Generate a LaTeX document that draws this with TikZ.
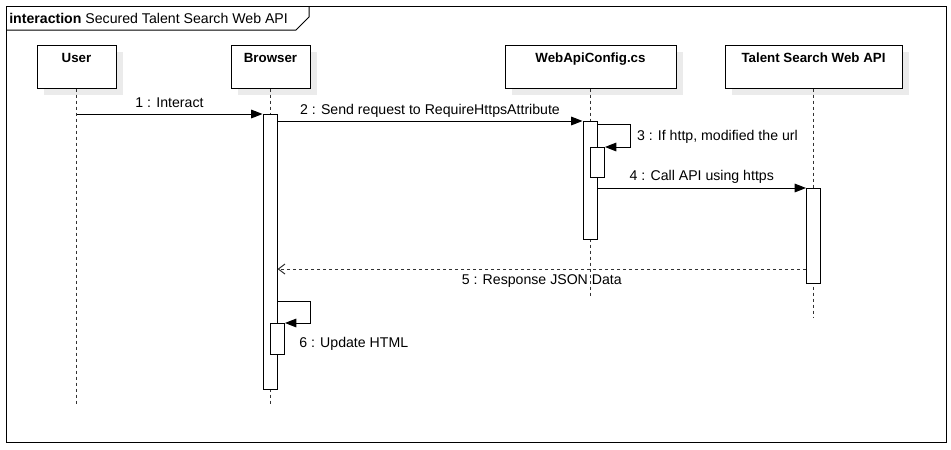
\documentclass[tikz,border=0pt]{standalone}
\usepackage{fontspec}
\setmainfont{Liberation Sans}
\usetikzlibrary{arrows.meta,shadows}
\tikzset{
  lifebox/.style={draw,fill=white,minimum height=32.25pt,inner sep=0pt,line width=0.75pt,
    drop shadow={shadow xshift=5.25pt,shadow yshift=-5.25pt,fill=black!8,opacity=1,draw=none}},
  boxlabel/.style={font=\bfseries,anchor=base,inner sep=0pt},
  lifeline/.style={line width=0.75pt,black!80,dash pattern=on 2.25pt off 2.25pt},
  act/.style={draw,fill=white,minimum width=10.5pt,inner sep=0pt,anchor=north,line width=0.75pt},
  msg/.style={line width=0.75pt,-{Triangle[length=8.5pt,width=6.5pt]}},
  reply/.style={line width=0.75pt,black!80,dash pattern=on 2.25pt off 2.25pt,-{Straight Barb[length=5pt,width=7.5pt]}},
  msglabel/.style={inner sep=0pt,text depth=0pt,text=black}
}
\begin{document}
\begin{tikzpicture}[x=0.75pt,y=-0.75pt,font=\fontsize{10.6pt}{12pt}\selectfont]
\useasboundingbox (0,0) rectangle (951,450);
% frame
\draw[line width=0.75pt] (6,6) rectangle (946,442);
\draw[line width=0.75pt] (6,30) -- (296,30) -- (309,17) -- (309,6);
\node[anchor=base west,inner sep=0pt] (title) at (9,23) {\textbf{interaction} Secured Talent Search Web API};
% participants
\node[lifebox,minimum width=59.25pt] (user) at (76.5,66.5) {};
\node[lifebox,minimum width=59.25pt] (browser) at (270.5,66.5) {};
\node[lifebox,minimum width=128.25pt] (config) at (590.5,66.5) {};
\node[lifebox,minimum width=132.75pt] (api) at (813.5,66.5) {};
\node[boxlabel] (userlbl) at ([yshift=-13.5pt]user.north) {User};
\node[boxlabel] (browserlbl) at ([yshift=-13.5pt]browser.north) {Browser};
\node[boxlabel] (configlbl) at ([yshift=-13.5pt]config.north) {WebApiConfig.cs};
\node[boxlabel] (apilbl) at ([yshift=-13.5pt]api.north) {Talent Search Web API};
% lifelines
\coordinate (userend) at (76.5,405);
\coordinate (browserend) at (270.5,404);
\coordinate (configend) at (590.5,298);
\coordinate (apiend) at (813.5,318);
\draw[lifeline] (user.south) -- (userend);
\draw[lifeline] (browser.south) -- (browserend);
\draw[lifeline] (config.south) -- (configend);
\draw[lifeline] (api.south) -- (apiend);
% activations
\node[act,minimum height=206.25pt] (bact) at (270,114) {};
\node[act,minimum height=88.5pt] (cact) at (590,121) {};
\node[act,minimum height=22.5pt] (cnest) at (597.5,147) {};
\node[act,minimum height=71.25pt] (aact) at (813.5,188) {};
\node[act,minimum height=23.25pt] (bnest) at (277.5,323) {};
% messages
\draw[msg] (user.south |- bact.north) -- (bact.north west)
  node[msglabel,midway,above=4.5pt] {1 : Interact};
\draw[msg] (bact.east |- cact.north) -- (cact.north west)
  node[msglabel,midway,above=4.5pt] {2 : Send request to RequireHttpsAttribute};
\draw[msg] ([yshift=-2.25pt]cact.north east) -- ++(33,0) |- (cnest.north east)
  node[msglabel,pos=0.25,right=4.5pt] {3 : If http, modified the url};
\draw[msg] (cact.east |- aact.north) -- (aact.north west)
  node[msglabel,midway,above=5.25pt] {4 : Call API using https};
\coordinate (r5) at (813.5,269);
\draw[reply] (aact.west |- r5) -- (bact.east |- r5)
  node[msglabel,midway,below=3.75pt] {5 : Response JSON Data};
\coordinate (s6) at (270,301);
\draw[msg] (bact.east |- s6) -- ++(33,0) |- (bnest.north east);
\node[msglabel,anchor=base west] (upd) at (299,347) {6 : Update HTML};
\end{tikzpicture}
\end{document}
